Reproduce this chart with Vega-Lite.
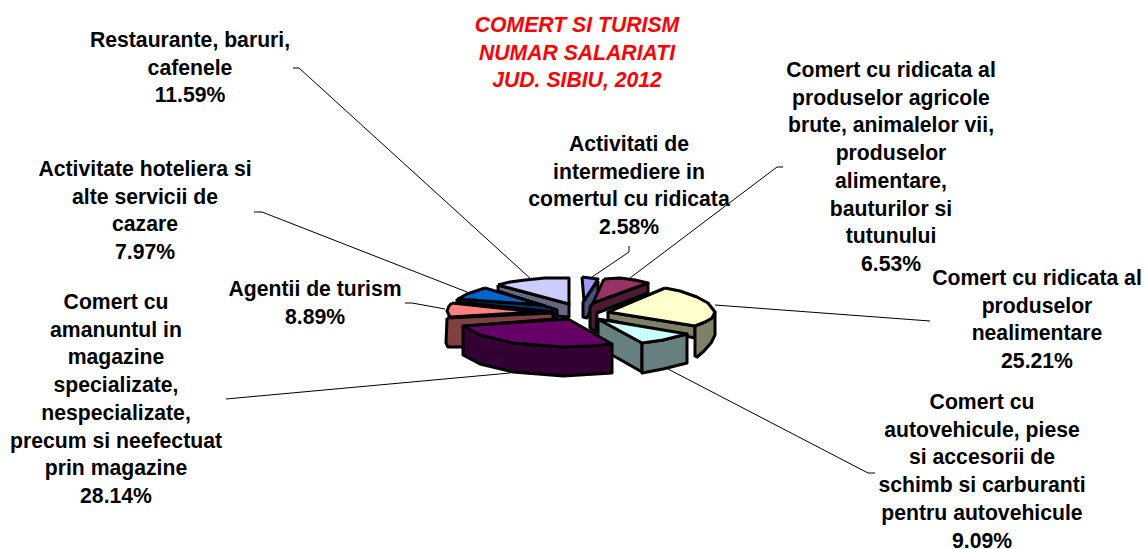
{"$schema":"https://vega.github.io/schema/vega-lite/v6.json","width":1145,"height":549,"padding":0,"autosize":"none","background":"white",
"config":{"view":{"stroke":null}},
"datasets":{
"leaders":[
{"id":"a","n":1,"x":629,"y":246},{"id":"a","n":2,"x":629,"y":252},{"id":"a","n":3,"x":592,"y":277},
{"id":"b","n":1,"x":783,"y":167},{"id":"b","n":2,"x":777,"y":167},{"id":"b","n":3,"x":630,"y":278},
{"id":"c","n":1,"x":293,"y":68},{"id":"c","n":2,"x":299,"y":68},{"id":"c","n":3,"x":532,"y":280},
{"id":"d","n":1,"x":254,"y":212},{"id":"d","n":2,"x":262,"y":212},{"id":"d","n":3,"x":467,"y":292},
{"id":"e","n":1,"x":405,"y":303},{"id":"e","n":2,"x":412,"y":303},{"id":"e","n":3,"x":445,"y":309},
{"id":"f","n":1,"x":715,"y":305},{"id":"f","n":2,"x":930,"y":321},
{"id":"g","n":1,"x":668,"y":369},{"id":"g","n":2,"x":868,"y":473},{"id":"g","n":3,"x":875,"y":473},
{"id":"h","n":1,"x":226,"y":399},{"id":"h","n":2,"x":510,"y":373}],
"faces":[
{"face":"rest-side","n":1,"x":498,"y":285},{"face":"rest-side","n":2,"x":498,"y":291},{"face":"rest-side","n":3,"x":556,"y":310},{"face":"rest-side","n":4,"x":556,"y":316},{"face":"rest-side","n":5,"x":569,"y":317},{"face":"rest-side","n":6,"x":569,"y":304},{"face":"rest-side","n":7,"x":498,"y":285},
{"face":"rest-top","n":1,"x":498,"y":285},{"face":"rest-top","n":2,"x":510,"y":282},{"face":"rest-top","n":3,"x":525,"y":280},{"face":"rest-top","n":4,"x":545,"y":278},{"face":"rest-top","n":5,"x":569,"y":278},{"face":"rest-top","n":6,"x":569,"y":304},{"face":"rest-top","n":7,"x":498,"y":285},
{"face":"hotel-side","n":1,"x":457,"y":299},{"face":"hotel-side","n":2,"x":457,"y":302},{"face":"hotel-side","n":3,"x":553,"y":312},{"face":"hotel-side","n":4,"x":553,"y":319},{"face":"hotel-side","n":5,"x":557,"y":319},{"face":"hotel-side","n":6,"x":557,"y":310},{"face":"hotel-side","n":7,"x":542,"y":305},{"face":"hotel-side","n":8,"x":457,"y":299},
{"face":"hotel-top","n":1,"x":485,"y":288},{"face":"hotel-top","n":2,"x":542,"y":305},{"face":"hotel-top","n":3,"x":458,"y":299},{"face":"hotel-top","n":4,"x":467,"y":294},{"face":"hotel-top","n":5,"x":476,"y":291},{"face":"hotel-top","n":6,"x":485,"y":288},
{"face":"agent-side","n":1,"x":447,"y":318},{"face":"agent-side","n":2,"x":553,"y":313},{"face":"agent-side","n":3,"x":553,"y":319},{"face":"agent-side","n":4,"x":470,"y":326},{"face":"agent-side","n":5,"x":463,"y":347},{"face":"agent-side","n":6,"x":448,"y":347},{"face":"agent-side","n":7,"x":446,"y":343},{"face":"agent-side","n":8,"x":447,"y":318},
{"face":"agent-top","n":1,"x":452,"y":303},{"face":"agent-top","n":2,"x":537,"y":312},{"face":"agent-top","n":3,"x":450,"y":317},{"face":"agent-top","n":4,"x":447,"y":311},{"face":"agent-top","n":5,"x":449,"y":306},{"face":"agent-top","n":6,"x":452,"y":303},
{"face":"inter-side","n":1,"x":598,"y":281},{"face":"inter-side","n":2,"x":598,"y":292},{"face":"inter-side","n":3,"x":587,"y":318},{"face":"inter-side","n":4,"x":583,"y":317},{"face":"inter-side","n":5,"x":583,"y":302},{"face":"inter-side","n":6,"x":598,"y":281},
{"face":"inter-top","n":1,"x":582,"y":277},{"face":"inter-top","n":2,"x":598,"y":279},{"face":"inter-top","n":3,"x":584,"y":301},{"face":"inter-top","n":4,"x":582,"y":277},
{"face":"agri-side","n":1,"x":648,"y":283},{"face":"agri-side","n":2,"x":648,"y":293},{"face":"agri-side","n":3,"x":597,"y":313},{"face":"agri-side","n":4,"x":596,"y":332},{"face":"agri-side","n":5,"x":590,"y":328},{"face":"agri-side","n":6,"x":590,"y":307},{"face":"agri-side","n":7,"x":593,"y":303},{"face":"agri-side","n":8,"x":648,"y":283},
{"face":"agri-top","n":1,"x":604,"y":279},{"face":"agri-top","n":2,"x":620,"y":278},{"face":"agri-top","n":3,"x":635,"y":280},{"face":"agri-top","n":4,"x":648,"y":283},{"face":"agri-top","n":5,"x":593,"y":303},{"face":"agri-top","n":6,"x":604,"y":279},
{"face":"neal-inner","n":1,"x":608,"y":312},{"face":"neal-inner","n":2,"x":608,"y":320},{"face":"neal-inner","n":3,"x":695,"y":338},{"face":"neal-inner","n":4,"x":695,"y":326},{"face":"neal-inner","n":5,"x":608,"y":312},
{"face":"neal-outer","n":1,"x":695,"y":326},{"face":"neal-outer","n":2,"x":705,"y":322},{"face":"neal-outer","n":3,"x":712,"y":318},{"face":"neal-outer","n":4,"x":715,"y":312},{"face":"neal-outer","n":5,"x":715,"y":335},{"face":"neal-outer","n":6,"x":711,"y":343},{"face":"neal-outer","n":7,"x":704,"y":351},{"face":"neal-outer","n":8,"x":697,"y":357},{"face":"neal-outer","n":9,"x":695,"y":356},{"face":"neal-outer","n":10,"x":695,"y":326},
{"face":"neal-top","n":1,"x":665,"y":288},{"face":"neal-top","n":2,"x":680,"y":291},{"face":"neal-top","n":3,"x":697,"y":297},{"face":"neal-top","n":4,"x":708,"y":303},{"face":"neal-top","n":5,"x":715,"y":312},{"face":"neal-top","n":6,"x":712,"y":318},{"face":"neal-top","n":7,"x":705,"y":322},{"face":"neal-top","n":8,"x":695,"y":326},{"face":"neal-top","n":9,"x":608,"y":312},{"face":"neal-top","n":10,"x":665,"y":288},
{"face":"auto-inner","n":1,"x":598,"y":319},{"face":"auto-inner","n":2,"x":598,"y":347},{"face":"auto-inner","n":3,"x":642,"y":372},{"face":"auto-inner","n":4,"x":642,"y":343},{"face":"auto-inner","n":5,"x":598,"y":319},
{"face":"auto-outer","n":1,"x":642,"y":343},{"face":"auto-outer","n":2,"x":663,"y":340},{"face":"auto-outer","n":3,"x":687,"y":334},{"face":"auto-outer","n":4,"x":687,"y":363},{"face":"auto-outer","n":5,"x":663,"y":369},{"face":"auto-outer","n":6,"x":642,"y":373},{"face":"auto-outer","n":7,"x":642,"y":343},
{"face":"auto-top","n":1,"x":598,"y":319},{"face":"auto-top","n":2,"x":687,"y":334},{"face":"auto-top","n":3,"x":663,"y":340},{"face":"auto-top","n":4,"x":642,"y":343},{"face":"auto-top","n":5,"x":598,"y":319},
{"face":"mag-side","n":1,"x":463,"y":326},{"face":"mag-side","n":2,"x":463,"y":355},{"face":"mag-side","n":3,"x":480,"y":364},{"face":"mag-side","n":4,"x":513,"y":372},{"face":"mag-side","n":5,"x":563,"y":376},{"face":"mag-side","n":6,"x":612,"y":373},{"face":"mag-side","n":7,"x":612,"y":344},{"face":"mag-side","n":8,"x":463,"y":326},
{"face":"mag-top","n":1,"x":568,"y":319},{"face":"mag-top","n":2,"x":612,"y":344},{"face":"mag-top","n":3,"x":590,"y":346},{"face":"mag-top","n":4,"x":563,"y":347},{"face":"mag-top","n":5,"x":513,"y":343},{"face":"mag-top","n":6,"x":480,"y":335},{"face":"mag-top","n":7,"x":463,"y":326},{"face":"mag-top","n":8,"x":568,"y":319}],
"labels":[
{"label":"Restaurante, baruri,\ncafenele\n11.59%","x":190,"y":30},
{"label":"Activitate hoteliera si\nalte servicii de\ncazare\n7.97%","x":145,"y":159},
{"label":"Agentii de turism\n8.89%","x":315,"y":279},
{"label":"Comert cu\namanuntul in\nmagazine\nspecializate,\nnespecializate,\nprecum si neefectuat\nprin magazine\n28.14%","x":116,"y":292},
{"label":"Activitati de\nintermediere in\ncomertul cu ridicata\n2.58%","x":629,"y":134},
{"label":"Comert cu ridicata al\nproduselor agricole\nbrute, animalelor vii,\nproduselor\nalimentare,\nbauturilor si\ntutunului\n6.53%","x":891,"y":60},
{"label":"Comert cu ridicata al\nproduselor\nnealimentare\n25.21%","x":1037,"y":268},
{"label":"Comert cu\nautovehicule, piese\nsi accesorii de\nschimb si carburanti\npentru autovehicule\n9.09%","x":982,"y":392}],
"title":[{"label":"COMERT SI TURISM\nNUMAR SALARIATI\nJUD. SIBIU, 2012","x":577,"y":15}]
},
"encoding":{
"x":{"field":"x","type":"quantitative","axis":null,"scale":{"domain":[0,1145],"nice":false,"zero":false}},
"y":{"field":"y","type":"quantitative","axis":null,"scale":{"domain":[549,0],"nice":false,"zero":false}}
},
"layer":[
{"data":{"name":"leaders"},"mark":{"type":"line","stroke":"#000000","strokeWidth":1,"clip":false},"encoding":{"detail":{"field":"id"},"order":{"field":"n","type":"quantitative"}}},
{"data":{"name":"faces"},"mark":{"type":"line","stroke":"#000000","strokeWidth":3,"strokeJoin":"round"},"encoding":{"detail":{"field":"face"},"order":{"field":"n","type":"quantitative"},
"fill":{"field":"face","type":"nominal","legend":null,"scale":{"domain":["rest-side","rest-top","hotel-side","hotel-top","agent-side","agent-top","inter-side","inter-top","agri-side","agri-top","neal-inner","neal-outer","neal-top","auto-inner","auto-outer","auto-top","mag-side","mag-top"],"range":["#666680","#CCCCFF","#003366","#0066CC","#804040","#FF8080","#4D4D80","#9999FF","#4D1A33","#993366","#808066","#808066","#FFFFCC","#668080","#668080","#CCFFFF","#330033","#660066"]}}}},
{"data":{"name":"labels"},"mark":{"type":"text","font":"Liberation Sans","fontWeight":"bold","fontSize":21.2,"lineHeight":27.7,"lineBreak":"\n","align":"center","baseline":"top","color":"#000000"},"encoding":{"text":{"field":"label"}}},
{"data":{"name":"title"},"mark":{"type":"text","font":"Liberation Sans","fontWeight":"bold","fontStyle":"italic","fontSize":21.2,"lineHeight":27.7,"lineBreak":"\n","align":"center","baseline":"top","color":"#FF0000"},"encoding":{"text":{"field":"label"}}}
]}
